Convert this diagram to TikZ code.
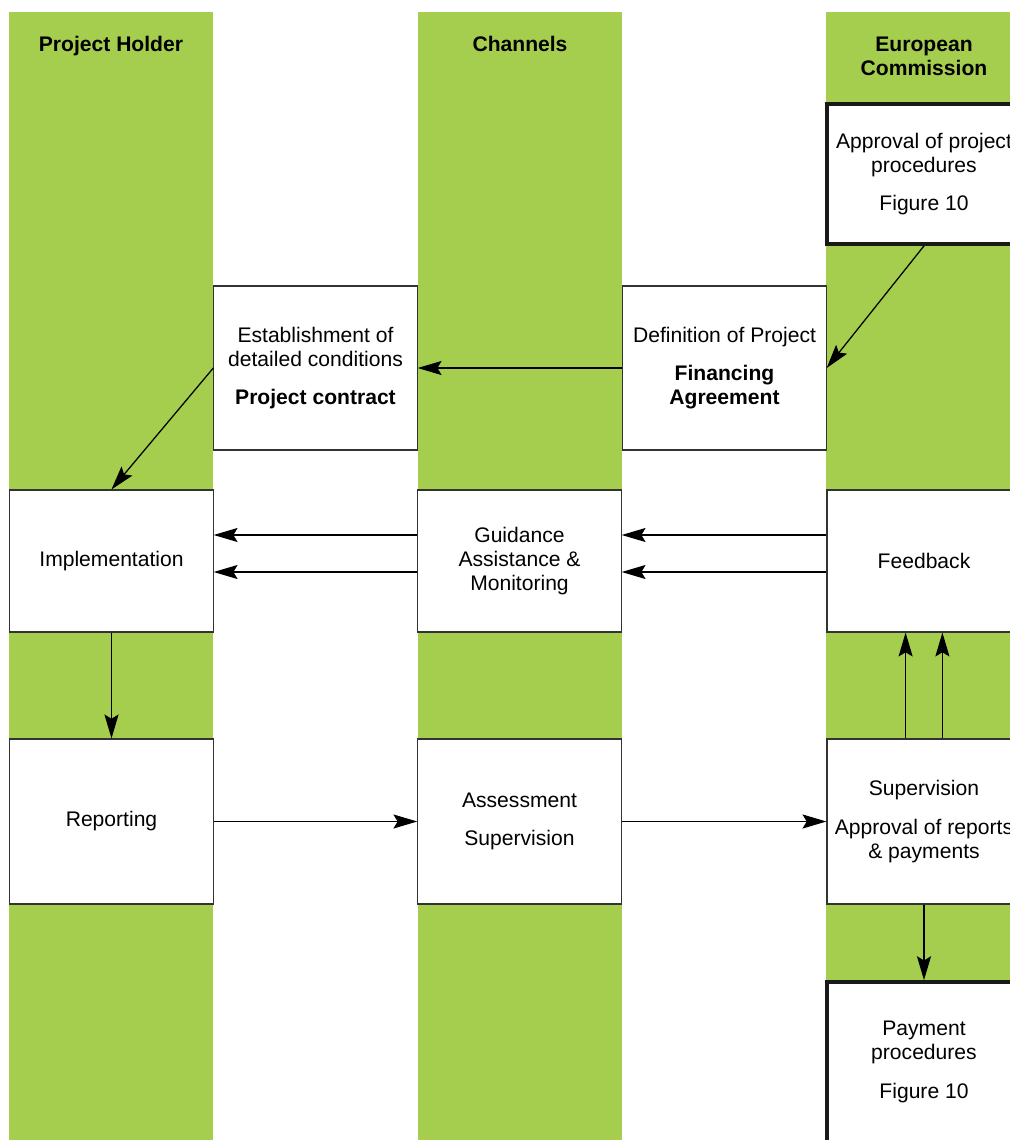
\documentclass[tikz,border=0pt]{standalone}
\usepackage{fontspec}
\setmainfont{Liberation Sans}
\usetikzlibrary{arrows.meta, positioning}
\definecolor{laneGreen}{RGB}{166,206,78}

\begin{document}
\begin{tikzpicture}[x=0.025cm, y=-0.025cm, font=\fontsize{15}{17}\selectfont]
  \tikzstyle{block} = [rectangle, draw=black!80, line width=0.8pt, fill=white, align=center, minimum width=5.08cm, inner sep=0pt]
  \tikzstyle{ecblock} = [block, minimum width=4.85cm]
  \tikzstyle{figbox} = [ecblock, draw=black!90, line width=2.6pt]
  \tikzstyle{lanetitle} = [font=\fontsize{15}{17}\selectfont\bfseries, align=center]
  \tikzstyle{arrow} = [line width=0.9pt, ->, >={Stealth[length=17pt, width=10pt, inset=3pt]}]

  \useasboundingbox (0,0) rectangle (1010,1140);
  \clip (0,0) rectangle (1010,1140);

  % swim lanes
  \fill[laneGreen] (9,12) rectangle (213,1140);
  \fill[laneGreen] (418,12) rectangle (622,1140);
  \fill[laneGreen] (826,12) rectangle (1030,1140);

  \node[lanetitle] (holder) at (111,46) {Project Holder};
  \node[lanetitle] (channels) at (520,44) {Channels};
  \node[lanetitle] (commission) at (924,56) {European\\Commission};

  \node[figbox, minimum height=3.5cm] (approval) at (924,174) {Approval of project\\procedures\\[10.5pt]Figure 10};
  \node[block, minimum height=4.1cm] (definition) at (724.5,368) {Definition of Project\\[10.5pt]\textbf{Financing}\\\textbf{Agreement}};
  \node[block, minimum height=4.1cm] (contract) at (315.5,368) {Establishment of\\detailed conditions\\[10.5pt]\textbf{Project contract}};

  \node[block, minimum height=3.55cm] (implementation) at (111.5,561) {Implementation};
  \node[block, minimum height=3.55cm] (guidance) at (519.5,561) {Guidance\\Assistance \&\\Monitoring};
  \node[ecblock, minimum height=3.55cm] (feedback) at (924,561) {Feedback};

  \node[block, minimum height=4.125cm] (reporting) at (111.5,821.5) {Reporting};
  \node[block, minimum height=4.125cm] (assessment) at (519.5,821.5) {Assessment\\[10.5pt]Supervision};
  \node[ecblock, minimum height=4.125cm] (supervision) at (924,821.5) {Supervision\\[10.5pt]Approval of reports\\\& payments};

  \node[figbox, minimum height=4cm] (payment) at (924,1062) {Payment\\procedures\\[10.5pt]Figure 10};

  % flows
  \draw[arrow] (approval.south) -- (definition.east);
  \draw[arrow] (definition.west) -- (contract.east);
  \draw[arrow] (contract.west) -- (implementation.north);
  \draw[arrow] ([yshift=0.65cm]feedback.west) -- ([yshift=0.65cm]guidance.east);
  \draw[arrow] ([yshift=-0.275cm]feedback.west) -- ([yshift=-0.275cm]guidance.east);
  \draw[arrow] ([yshift=0.65cm]guidance.west) -- ([yshift=0.65cm]implementation.east);
  \draw[arrow] ([yshift=-0.275cm]guidance.west) -- ([yshift=-0.275cm]implementation.east);
  \draw[arrow] (implementation.south) -- (reporting.north);
  \draw[arrow] (reporting.east) -- (assessment.west);
  \draw[arrow] (assessment.east) -- (supervision.west);
  \draw[arrow] ([xshift=-0.46cm]supervision.north) -- ([xshift=-0.46cm]feedback.south);
  \draw[arrow] ([xshift=0.46cm]supervision.north) -- ([xshift=0.46cm]feedback.south);
  \draw[arrow] (supervision.south) -- (payment.north);
\end{tikzpicture}
\end{document}
